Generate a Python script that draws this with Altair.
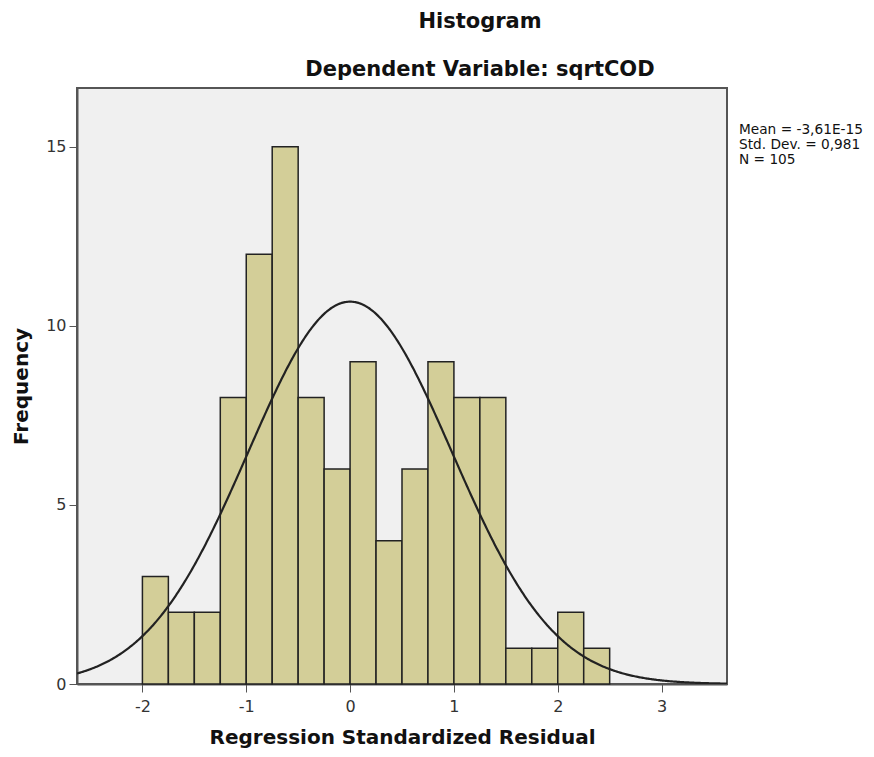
import altair as alt
import pandas as pd

# Histogram bins (width 0.25) and frequencies
bin_starts = [-2.0, -1.75, -1.5, -1.25, -1.0, -0.75, -0.5, -0.25, 0.0, 0.25,
              0.5, 0.75, 1.0, 1.25, 1.5, 1.75, 2.0, 2.25]
bin_width = 0.25
counts = [3, 2, 2, 8, 12, 15, 8, 6, 9, 4, 6, 9, 8, 8, 1, 1, 2, 1]

# Summary statistics shown in the chart
stat_mean = -3.61e-15
stat_sd = 0.981
stat_n = 105
stat_lines = ["Mean = -3,61E-15", "Std. Dev. = 0,981", "N = 105"]

x_ticks = [-2, -1, 0, 1, 2, 3]
y_ticks = [0, 5, 10, 15]
x_domain = [-2.63, 3.63]
y_domain = [0, 16.64]

bars_df = pd.DataFrame({
    "start": bin_starts,
    "end": [s + bin_width for s in bin_starts],
    "count": counts,
})

W, H = 650, 596
FONT = "DejaVu Sans"

xscale = alt.Scale(domain=x_domain, nice=False, zero=False)
yscale = alt.Scale(domain=y_domain, nice=False, zero=False)

xaxis = alt.Axis(values=x_ticks, title="Regression Standardized Residual", grid=False,
                 labelFont=FONT, labelFontSize=16, labelColor="#333333",
                 titleFont=FONT, titleFontSize=20, titleFontWeight="bold", titleColor="#111111",
                 titlePadding=13, tickSize=8, tickColor="#555555", domainColor="#555555",
                 domainWidth=2, labelPadding=6, labelExpr="toString(datum.value)")
yaxis = alt.Axis(values=y_ticks, title="Frequency", grid=False,
                 labelFont=FONT, labelFontSize=16, labelColor="#333333",
                 titleFont=FONT, titleFontSize=20, titleFontWeight="bold", titleColor="#111111",
                 titlePadding=14, tickSize=8, tickColor="#555555", domainColor="#555555",
                 domainWidth=2, labelPadding=3, labelExpr="toString(datum.value)")

bars = alt.Chart(bars_df).mark_rect(
    fill="#D3CE98", stroke="#222222", strokeWidth=1.5
).encode(
    x=alt.X("start:Q", scale=xscale, axis=xaxis),
    x2="end:Q",
    y=alt.Y("count:Q", scale=yscale, axis=yaxis),
    y2=alt.datum(0),
)

curve = alt.Chart(alt.sequence(x_domain[0], x_domain[1] + 0.005, 0.01, as_="x")).transform_calculate(
    dens=f"{stat_n}*{bin_width}*exp(-0.5*pow((datum.x-({stat_mean}))/{stat_sd},2))/({stat_sd}*sqrt(2*PI))"
).mark_line(color="#222222", strokeWidth=2.2, clip=True).encode(
    x=alt.X("x:Q", scale=xscale),
    y=alt.Y("dens:Q", scale=yscale),
)

stats = alt.Chart(pd.DataFrame({"t": ["\n".join(stat_lines)]})).mark_text(
    align="left", baseline="top", font=FONT, fontSize=13.7, lineHeight=15,
    color="#111111", lineBreak="\n", clip=False
).encode(
    text="t:N",
    x=alt.value(W + 12),
    y=alt.value(35),
)

chart = alt.layer(bars, curve, stats).properties(
    width=W, height=H,
    title=alt.TitleParams(
        text="Histogram",
        subtitle="Dependent Variable: sqrtCOD",
        font=FONT, fontSize=21, fontWeight="bold", color="#111111",
        subtitleFont=FONT, subtitleFontSize=21, subtitleFontWeight="bold", subtitleColor="#111111",
        anchor="middle", dx=78, offset=8, subtitlePadding=27,
    ),
    autosize=alt.AutoSizeParams(type="none"),
    padding={"left": 69, "top": 80, "right": 139, "bottom": 65},
    background="white",
).configure_view(
    fill="#F0F0F0", stroke="#555555", strokeWidth=2
)

chart.save("out.html", embed_options={"renderer": "svg", "actions": False})
